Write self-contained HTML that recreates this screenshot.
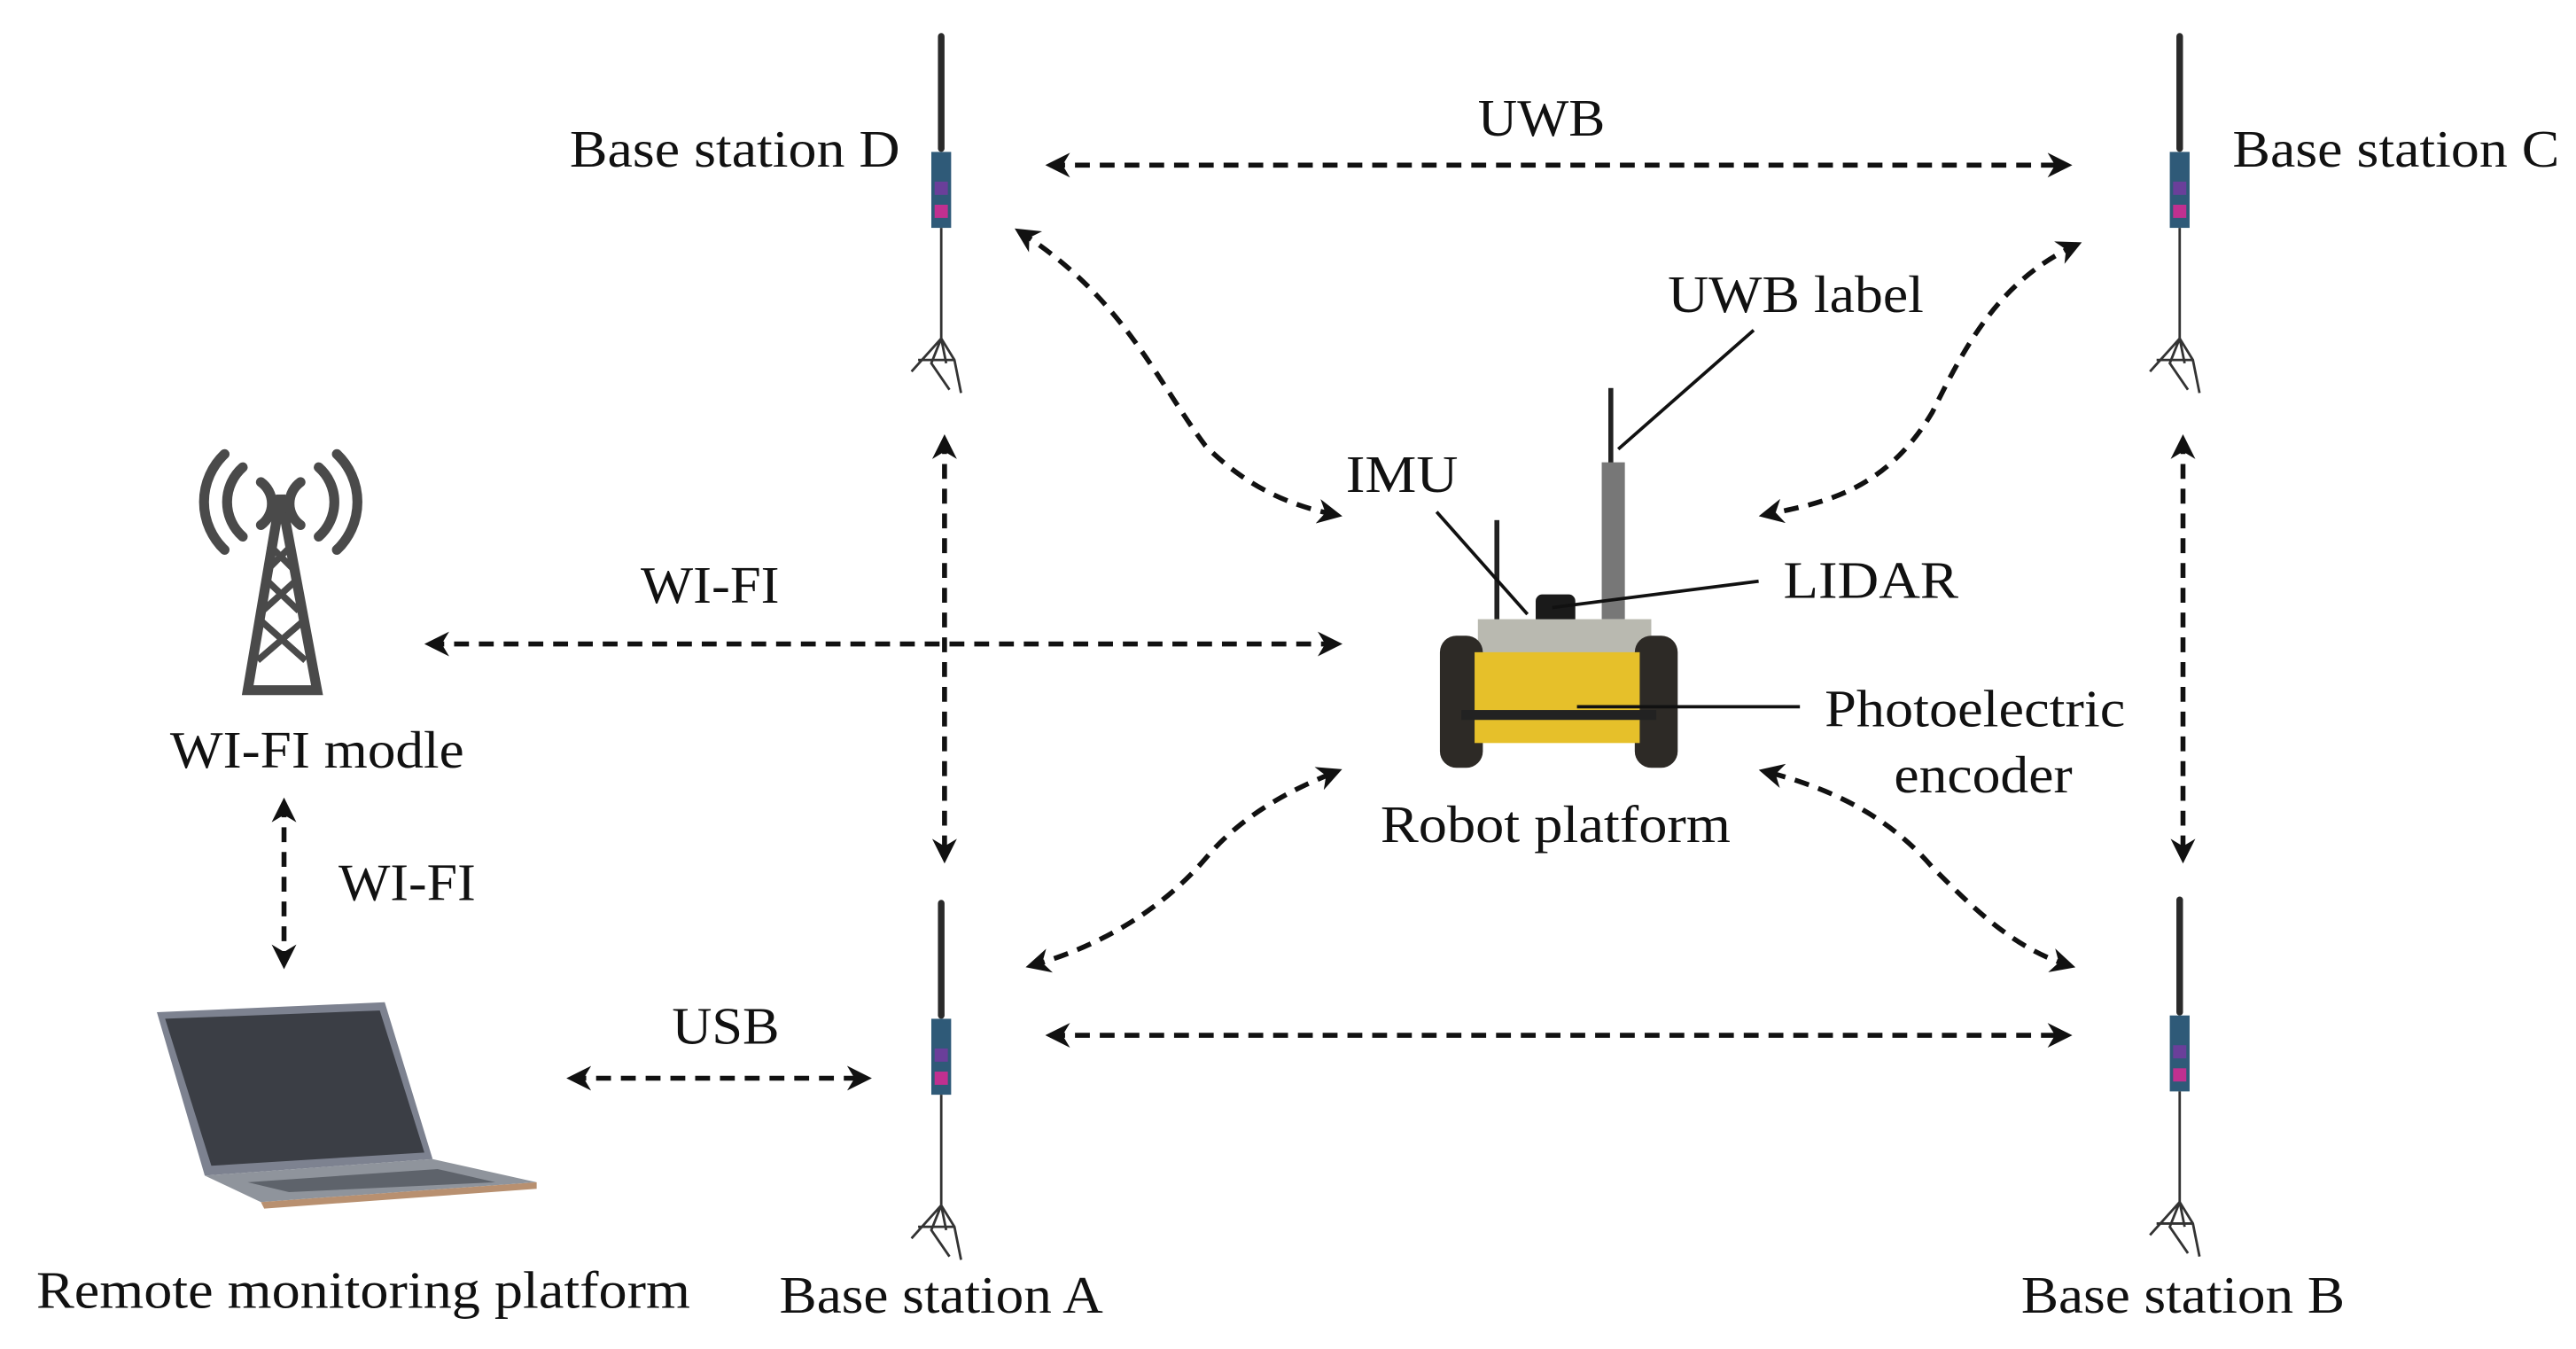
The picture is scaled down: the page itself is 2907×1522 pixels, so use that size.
<!DOCTYPE html>
<html><head><style>
html,body{margin:0;padding:0;background:#fff;}
svg{display:block;}
text{font-family:"Liberation Serif",serif;font-size:32px;fill:#111;}
</style></head><body>
<svg width="2907" height="1522" viewBox="0 0 1560 817" preserveAspectRatio="none" xmlns="http://www.w3.org/2000/svg">
<defs>
<marker id="ah" viewBox="0 0 10 10" refX="8" refY="5" markerWidth="5" markerHeight="5" orient="auto-start-reverse" markerUnits="strokeWidth">
<path d="M0,0 L10,5 L0,10 L3,5 z" fill="#111"/></marker>
<g id="bs">
<rect x="-2" y="0" width="4" height="72" rx="2" fill="#2a2a2a"/>
<rect x="-6" y="72" width="12" height="46" fill="#2f5a78"/>
<rect x="-4" y="90" width="8" height="8" fill="#6a3f9a"/>
<rect x="-4" y="104" width="8" height="8" fill="#c03090"/>
<line x1="0" y1="118" x2="0" y2="185" stroke="#333" stroke-width="1.5"/>
<path d="M0,185 L-18,205 M0,185 L-6,200 L5,216 M0,185 L3,200 M0,185 L8,198 L12,218 M-14,198 L8,198" stroke="#333" stroke-width="1.5" fill="none"/>
</g>
</defs>
<use href="#bs" x="570" y="20"/>
<use href="#bs" x="1320" y="20"/>
<use href="#bs" x="570" y="545"/>
<use href="#bs" x="1320" y="543"/>

<g stroke="#111" stroke-width="3" stroke-dasharray="9,6" fill="none" marker-start="url(#ah)" marker-end="url(#ah)">
<line x1="636" y1="100" x2="1252" y2="100"/>
<line x1="636" y1="627" x2="1252" y2="627"/>
<line x1="572" y1="266" x2="572" y2="520"/>
<line x1="1322" y1="266" x2="1322" y2="520"/>
<line x1="260" y1="390" x2="810" y2="390"/>
<line x1="172" y1="486" x2="172" y2="584"/>
<line x1="346" y1="653" x2="525" y2="653"/>
<path d="M617,140 C680,180 700,230 730,270 C760,300 790,308 810,312"/>
<path d="M1258,148 C1210,170 1190,210 1170,250 C1140,300 1100,305 1068,312"/>
<path d="M624,585 C660,575 700,555 730,520 C755,490 790,475 810,467"/>
<path d="M1254,585 C1220,575 1195,550 1170,525 C1140,490 1100,475 1068,467"/>
</g>

<g fill="#4a4a4a" stroke="#4a4a4a">
<path d="M170,300 L150,418 L192,418 Z" fill="none" stroke-width="6"/>
<path d="M163,330 L178,345 M177,330 L162,345 M160,350 L181,370 M181,350 L159,370 M157,375 L185,400 M185,375 L156,400" stroke-width="4"/>
<circle cx="170" cy="306" r="5"/>
<g fill="none" stroke-width="6" stroke-linecap="round">
<path d="M158,292 A16,16 0 0 1 158,318"/><path d="M182,292 A16,16 0 0 0 182,318"/>
<path d="M147,283 A28,28 0 0 0 147,325"/><path d="M193,283 A28,28 0 0 1 193,325"/>
<path d="M136,275 A40,40 0 0 0 136,333"/><path d="M204,275 A40,40 0 0 1 204,333"/>
</g></g>

<polygon points="95,613 233,607 262,702 124,712" fill="#7d8290"/>
<polygon points="100,617 230,612 257,698 128,706" fill="#3b3e45"/>
<polygon points="124,712 262,702 325,716 158,728" fill="#8f949c"/>
<polygon points="150,716 265,708 300,716 175,722" fill="#5e636b"/>
<polygon points="158,728 325,716 325,720 160,732" fill="#b89070"/>

<rect x="974" y="235" width="3" height="60" fill="#222"/>
<rect x="970" y="280" width="14" height="95" fill="#777"/>
<rect x="905" y="315" width="3" height="70" fill="#222"/>
<rect x="930" y="360" width="24" height="20" rx="4" fill="#1a1a1a"/>
<rect x="895" y="375" width="105" height="25" fill="#b9b9b0"/>
<rect x="872" y="385" width="26" height="80" rx="10" fill="#2d2a26"/>
<rect x="990" y="385" width="26" height="80" rx="10" fill="#2d2a26"/>
<rect x="893" y="395" width="100" height="55" fill="#e6c02a"/>
<rect x="885" y="430" width="118" height="6" fill="#222"/>

<g stroke="#111" stroke-width="2">
<line x1="1062" y1="200" x2="980" y2="272"/>
<line x1="870" y1="310" x2="925" y2="372"/>
<line x1="1065" y1="352" x2="940" y2="368"/>
<line x1="1090" y1="428" x2="955" y2="428"/>
</g>

<g>
<text x="345" y="101" textLength="200" lengthAdjust="spacingAndGlyphs">Base station D</text>
<text x="1352" y="101" textLength="198" lengthAdjust="spacingAndGlyphs">Base station C</text>
<text x="472" y="795" textLength="196" lengthAdjust="spacingAndGlyphs">Base station A</text>
<text x="1224" y="795" textLength="196" lengthAdjust="spacingAndGlyphs">Base station B</text>
<text x="895" y="82" textLength="77" lengthAdjust="spacingAndGlyphs">UWB</text>
<text x="1010" y="189" textLength="155" lengthAdjust="spacingAndGlyphs">UWB label</text>
<text x="815" y="298" textLength="68" lengthAdjust="spacingAndGlyphs">IMU</text>
<text x="1080" y="362" textLength="106" lengthAdjust="spacingAndGlyphs">LIDAR</text>
<text x="1105" y="440" textLength="182" lengthAdjust="spacingAndGlyphs">Photoelectric</text>
<text x="1147" y="480" textLength="108" lengthAdjust="spacingAndGlyphs">encoder</text>
<text x="836" y="510" textLength="212" lengthAdjust="spacingAndGlyphs">Robot platform</text>
<text x="388" y="365" textLength="84" lengthAdjust="spacingAndGlyphs">WI-FI</text>
<text x="103" y="465" textLength="178" lengthAdjust="spacingAndGlyphs">WI-FI modle</text>
<text x="205" y="545" textLength="83" lengthAdjust="spacingAndGlyphs">WI-FI</text>
<text x="407" y="632" textLength="65" lengthAdjust="spacingAndGlyphs">USB</text>
<text x="22" y="792" textLength="396" lengthAdjust="spacingAndGlyphs">Remote monitoring platform</text>
</g>
</svg>
</body></html>
